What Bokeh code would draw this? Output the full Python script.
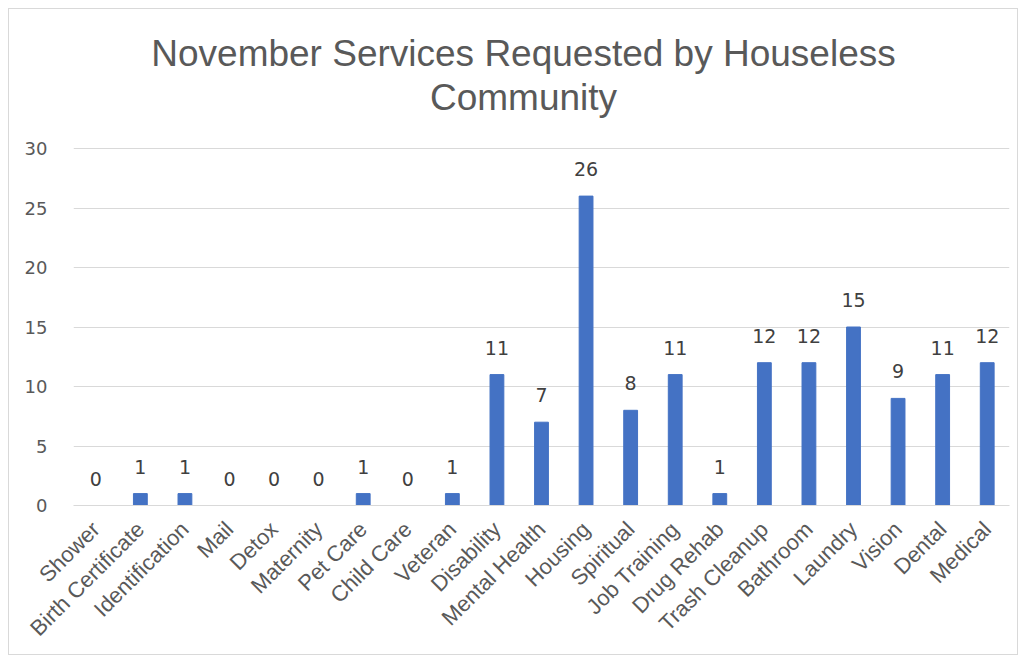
from bokeh.plotting import figure
from bokeh.models import FactorRange, Range1d, ColumnDataSource, Label
from bokeh.embed import file_html
from bokeh.resources import INLINE
from bokeh.core.properties import value
import math

categories = ["Shower", "Birth Certificate", "Identification", "Mail", "Detox", "Maternity",
              "Pet Care", "Child Care", "Veteran", "Disability", "Mental Health", "Housing",
              "Spiritual", "Job Training", "Drug Rehab", "Trash Cleanup", "Bathroom", "Laundry",
              "Vision", "Dental", "Medical"]
counts = [0, 1, 1, 0, 0, 0, 1, 0, 1, 11, 7, 26, 8, 11, 1, 12, 12, 15, 9, 11, 12]
y_ticks = [0, 5, 10, 15, 20, 25, 30]
title_lines = ["November Services Requested by Houseless", "Community"]

# layout: the value axis 0..30 spans 357 px; the frame is extended upward to hold the title
axis_px = 357
frame_px = 495
y_end = 30 * frame_px / axis_px

src = ColumnDataSource(dict(cat=categories, val=counts, lab=[str(v) for v in counts]))

p = figure(x_range=FactorRange(*categories, range_padding=0), y_range=Range1d(0, y_end),
           width=1010, height=647, output_backend="svg", toolbar_location=None,
           min_border_left=64, min_border_right=10, min_border_top=1, min_border_bottom=151)

p.styles = {"border": "1px solid #d9d9d9", "margin-left": "8px", "margin-top": "8px"}
p.outline_line_color = None

# title: two centred lines (screen units measured from the frame's lower-left corner)
for i, line in enumerate(title_lines):
    p.add_layout(Label(x=450, y=452 - 44 * i, x_units="screen", y_units="screen",
                       text=line, text_align="center", text_baseline="middle",
                       text_font="Liberation Sans", text_font_size="37px",
                       text_color="#595959"))

p.vbar(x="cat", top="val", width=0.31, source=src, color="#4472C4")
p.text(x="cat", y="val", text="lab", source=src, text_align="center", text_baseline="bottom",
       y_offset=-20, text_font=value("DejaVu Sans"), text_font_size="19px", text_color="#404040")

p.yaxis.ticker = y_ticks
p.yaxis.axis_line_color = None
p.yaxis.major_tick_line_color = None
p.yaxis.minor_tick_line_color = None
p.yaxis.major_label_text_font = "DejaVu Sans"
p.yaxis.major_label_text_font_size = "18px"
p.yaxis.major_label_text_color = "#595959"
p.yaxis.major_label_standoff = 20

p.xaxis.axis_line_color = "#d9d9d9"
p.xaxis.axis_line_width = 1
p.xaxis.major_tick_line_color = None
p.xaxis.major_label_orientation = math.pi / 4
p.xaxis.major_label_text_font = "Liberation Sans"
p.xaxis.major_label_text_font_size = "22px"
p.xaxis.major_label_text_color = "#595959"
p.xaxis.major_label_standoff = 14

p.xgrid.grid_line_color = None
p.ygrid.grid_line_color = "#d9d9d9"
p.ygrid.ticker = y_ticks

open("out.html", "w").write(file_html(p, INLINE))
